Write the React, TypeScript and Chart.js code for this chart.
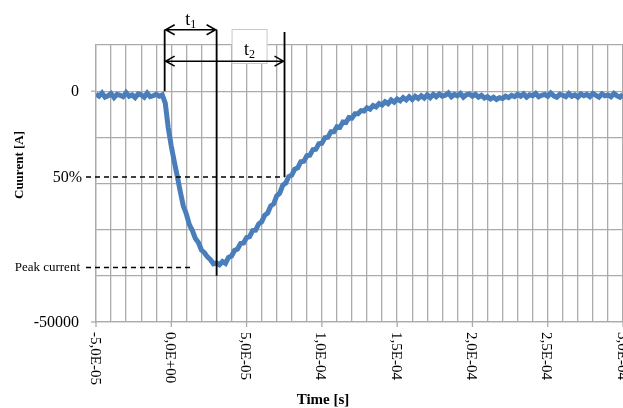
import React, { useEffect, useRef } from 'react';
import { Chart, registerables } from 'chart.js';

Chart.register(...registerables);

// ---- data (time in microseconds, current in amperes) ----
const timeUs = [
  -50, -48, -46, -44, -42, -40, -38, -36, -34, -32,
  -30, -28, -26, -24, -22, -20, -18, -16, -14, -12,
  -10, -8, -6, -4, -2, 0, 2, 4, 6, 8,
  10, 12, 14, 16, 18, 20, 22, 24, 26, 28,
  30, 32, 34, 36, 38, 40, 42, 44, 46, 48,
  50, 52, 54, 56, 58, 60, 62, 64, 66, 68,
  70, 72, 74, 76, 78, 80, 82, 84, 86, 88,
  90, 92, 94, 96, 98, 100, 102, 104, 106, 108,
  110, 112, 114, 116, 118, 120, 122, 124, 126, 128,
  130, 132, 134, 136, 138, 140, 142, 144, 146, 148,
  150, 152, 154, 156, 158, 160, 162, 164, 166, 168,
  170, 172, 174, 176, 178, 180, 182, 184, 186, 188,
  190, 192, 194, 196, 198, 200, 202, 204, 206, 208,
  210, 212, 214, 216, 218, 220, 222, 224, 226, 228,
  230, 232, 234, 236, 238, 240, 242, 244, 246, 248,
  250, 252, 254, 256, 258, 260, 262, 264, 266, 268,
  270, 272, 274, 276, 278, 280, 282, 284, 286, 288,
  290, 292, 294, 296, 298, 300,
];

const currentA = [
  -600, -1100, -400, -1300, -1000, -500, -1400, -700, -900, -1200,
  -300, -1100, -800, -1400, -600, -800, -1300, -400, -1200, -1000,
  -700, -1100, -800, -2600, -8000, -11900, -15300, -18500, -21800, -24900,
  -26600, -28900, -30200, -31900, -32800, -34400, -35000, -35900, -36500, -37400,
  -37200, -37600, -36900, -37300, -36000, -35700, -34500, -34200, -33000, -32900,
  -31700, -31500, -30200, -30100, -28800, -28300, -26900, -26400, -24900, -24400,
  -22700, -22100, -20400, -19900, -18500, -18200, -16900, -16600, -15300, -15200,
  -14000, -13900, -12700, -12600, -11400, -11300, -10100, -10000, -8800, -8800,
  -7700, -7800, -6700, -6800, -5700, -5800, -4900, -4900, -4200, -4300,
  -3600, -3900, -3100, -3400, -2700, -3000, -2300, -2700, -1900, -2400,
  -1700, -2100, -1400, -1900, -1200, -1800, -1100, -1600, -1000, -1500,
  -800, -1400, -700, -1200, -600, -1100, -900, -400, -1200, -700,
  -1000, -500, -1300, -800, -600, -1100, -700, -1300, -900, -1500,
  -1200, -1700, -1300, -1800, -1400, -1600, -1100, -1400, -900, -1200,
  -700, -1100, -600, -1300, -800, -1000, -500, -1200, -900, -700,
  -1100, -400, -1000, -1300, -700, -900, -1200, -500, -1100, -800,
  -1300, -600, -1000, -700, -1200, -500, -900, -1300, -600, -1000,
  -800, -1200, -500, -1000, -1300, -700,
];

// axis ticks
const xLabelValuesUs = [-50, 0, 50, 100, 150, 200, 250, 300];
const yLabelValues = [0, -50000];
const X_MIN = -50;
const X_MAX = 300;
const X_GRID_STEP = 10;
const Y_MIN = -50000;
const Y_MAX = 10000;
const Y_STEP = 10000;

// annotation values
const T_START_US = -4.4;
const T_PEAK_US = 30.1;
const T_HALF_US = 75.2;
const I_PEAK = -38200;
const I_HALF = -18600;
const PEAK_DASH_END_US = 15;
const ARROW1_LEVEL = 13300;
const ARROW2_LEVEL = 6500;
const HALF_LINE_TOP = 12800;
const PEAK_LINE_BOTTOM = -40000;

const GRID = '#ababab';
const SERIF = '"Liberation Serif", "Times New Roman", serif';

function fmtSci(us: number): string {
  const s = (us * 1e-6).toExponential(1);
  const [m, e] = s.split('e');
  const sign = e[0] === '-' ? '-' : '+';
  const digits = e.replace(/[+-]/, '').padStart(2, '0');
  return m.replace('.', ',') + 'E' + sign + digits;
}

const overlayPlugin = {
  id: 'overlay',
  afterDraw(chart: any) {
    const ctx: CanvasRenderingContext2D = chart.ctx;
    const xs = chart.scales.x;
    const ys = chart.scales.y;
    const area = chart.chartArea;
    const X = (v: number) => xs.getPixelForValue(v);
    const Y = (v: number) => ys.getPixelForValue(v);
    ctx.save();

    // y tick marks and labels
    ctx.strokeStyle = GRID;
    ctx.lineWidth = 1.3;
    ctx.fillStyle = '#000';
    ctx.font = `16px ${SERIF}`;
    ctx.textAlign = 'right';
    ctx.textBaseline = 'middle';
    for (const v of yLabelValues) {
      const y = Y(v);
      ctx.beginPath();
      ctx.moveTo(area.left - 5, y);
      ctx.lineTo(area.left, y);
      ctx.stroke();
      ctx.fillText(String(v), area.left - 17, y + 1);
    }

    // x tick marks and rotated labels
    ctx.font = `15px ${SERIF}`;
    ctx.textAlign = 'left';
    for (const v of xLabelValuesUs) {
      const x = X(v);
      ctx.beginPath();
      ctx.moveTo(x, area.bottom);
      ctx.lineTo(x, area.bottom + 5);
      ctx.stroke();
      ctx.save();
      ctx.translate(x - 1.5, area.bottom + 10);
      ctx.rotate(Math.PI / 2);
      ctx.fillText(fmtSci(v), 0, 0);
      ctx.restore();
    }

    // axis titles
    ctx.font = `bold 15px ${SERIF}`;
    ctx.textAlign = 'center';
    ctx.fillText('Time [s]', 323, 400);
    ctx.save();
    ctx.translate(20, 165);
    ctx.rotate(-Math.PI / 2);
    ctx.font = `bold 13px ${SERIF}`;
    ctx.fillText('Cuurent [A]', 0, 0);
    ctx.restore();

    // side labels
    ctx.textAlign = 'right';
    ctx.font = `16px ${SERIF}`;
    ctx.fillText('50%', 82, Y(I_HALF) + 1);
    ctx.font = `13px ${SERIF}`;
    ctx.fillText('Peak current', 80, Y(I_PEAK));

    // dashed reference lines
    ctx.strokeStyle = '#000';
    ctx.lineWidth = 1.5;
    ctx.setLineDash([5, 4]);
    ctx.beginPath();
    ctx.moveTo(86, Y(I_HALF));
    ctx.lineTo(X(T_HALF_US), Y(I_HALF));
    ctx.moveTo(86, Y(I_PEAK));
    ctx.lineTo(X(PEAK_DASH_END_US), Y(I_PEAK));
    ctx.stroke();
    ctx.setLineDash([]);

    // t2 label box
    const xs0 = X(T_START_US);
    const xp = X(T_PEAK_US);
    const xh = X(T_HALF_US);
    const bx = (xp + xh) / 2 - 1;
    ctx.fillStyle = '#fff';
    ctx.fillRect(bx - 17.5, 29.5, 35, 34);
    ctx.strokeStyle = '#c8c8c8';
    ctx.lineWidth = 1;
    ctx.strokeRect(bx - 17.5, 29.5, 35, 34);

    // vertical marker lines
    ctx.strokeStyle = '#000';
    ctx.lineWidth = 1.8;
    ctx.beginPath();
    ctx.moveTo(xs0, Y(ARROW1_LEVEL));
    ctx.lineTo(xs0, Y(0));
    ctx.moveTo(xp, Y(ARROW1_LEVEL));
    ctx.lineTo(xp, Y(PEAK_LINE_BOTTOM));
    ctx.moveTo(xh, Y(HALF_LINE_TOP));
    ctx.lineTo(xh, Y(I_HALF));
    ctx.stroke();

    // double arrows
    const arrow = (x1: number, x2: number, y: number) => {
      ctx.beginPath();
      ctx.moveTo(x1, y);
      ctx.lineTo(x2, y);
      ctx.moveTo(x1 + 10, y - 5);
      ctx.lineTo(x1 + 1, y);
      ctx.lineTo(x1 + 10, y + 5);
      ctx.moveTo(x2 - 10, y - 5);
      ctx.lineTo(x2 - 1, y);
      ctx.lineTo(x2 - 10, y + 5);
      ctx.stroke();
    };
    ctx.lineWidth = 1.5;
    arrow(xs0, xp, Y(ARROW1_LEVEL));
    arrow(xs0, xh, Y(ARROW2_LEVEL));

    // t1 / t2 labels
    const sub = (cx: number, cy: number, n: string) => {
      ctx.fillStyle = '#000';
      ctx.textAlign = 'left';
      ctx.textBaseline = 'alphabetic';
      ctx.font = `18px ${SERIF}`;
      const wt = ctx.measureText('t').width;
      ctx.font = `12px ${SERIF}`;
      const wn = ctx.measureText(n).width;
      const x0 = cx - (wt + wn) / 2;
      ctx.font = `18px ${SERIF}`;
      ctx.fillText('t', x0, cy);
      ctx.font = `12px ${SERIF}`;
      ctx.fillText(n, x0 + wt, cy + 3);
    };
    sub((xs0 + xp) / 2, 25, '1');
    sub(bx, 55, '2');

    ctx.restore();
  },
};

export default function App() {
  const ref = useRef<HTMLCanvasElement>(null);
  useEffect(() => {
    const canvas = ref.current;
    if (!canvas) return;
    const points = timeUs.map((t, i) => ({ x: t, y: currentA[i] }));
    const chart = new Chart(canvas, {
      type: 'line',
      data: {
        datasets: [
          {
            data: points,
            borderColor: '#4a7ebb',
            borderWidth: 5,
            pointRadius: 0,
            tension: 0,
            borderJoinStyle: 'miter',
            borderCapStyle: 'butt',
            fill: false,
          },
        ],
      },
      options: {
        responsive: false,
        animation: false,
        events: [],
        layout: { padding: { top: 45, right: 17, left: 0, bottom: 0 } },
        plugins: { legend: { display: false }, tooltip: { enabled: false } },
        scales: {
          x: {
            type: 'linear',
            min: X_MIN,
            max: X_MAX,
            ticks: { stepSize: X_GRID_STEP, display: false },
            grid: { color: GRID, lineWidth: 1.3, drawTicks: false, tickLength: 0 },
            border: { color: GRID, width: 1.3 },
            afterFit: (s: any) => {
              s.height = 86;
            },
          },
          y: {
            type: 'linear',
            min: Y_MIN,
            max: Y_MAX,
            ticks: { stepSize: Y_STEP, display: false },
            grid: { color: GRID, lineWidth: 1.3, drawTicks: false, tickLength: 0 },
            border: { color: GRID, width: 1.3 },
            afterFit: (s: any) => {
              s.width = 96;
            },
          },
        },
      } as any,
      plugins: [overlayPlugin],
    });
    return () => chart.destroy();
  }, []);

  return (
    <div
      style={{
        position: 'fixed',
        left: 0,
        top: 0,
        width: 623,
        height: 408,
        overflow: 'hidden',
        background: '#fff',
      }}
    >
      <canvas ref={ref} width={640} height={408} style={{ display: 'block', width: 640, height: 408 }} />
    </div>
  );
}
